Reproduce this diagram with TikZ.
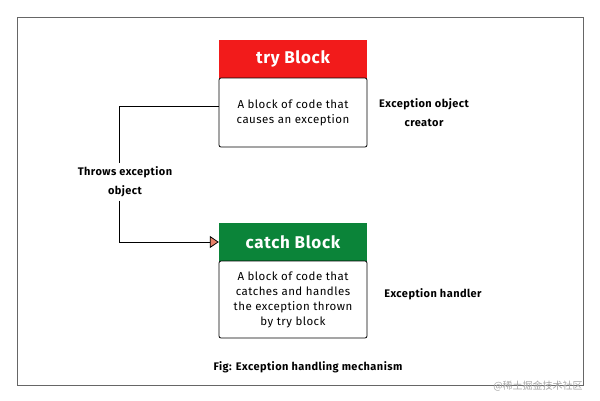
\documentclass[tikz,border=0pt]{standalone}
\usepackage{fontspec}
\setmainfont{Fira Sans}[LetterSpace=4]
\newfontfamily\cjk{Noto Sans CJK SC}
\usetikzlibrary{arrows.meta}
\definecolor{tryred}{HTML}{F21B1B}
\definecolor{catchgreen}{HTML}{0B8439}
\definecolor{tipfill}{HTML}{E8836A}
\begin{document}
\begin{tikzpicture}[x=1pt,y=-1pt,
    header/.style ={minimum width=148pt, minimum height=38pt, inner sep=0pt, text=white, font=\fontsize{17}{20}\selectfont\bfseries},
    body/.style ={draw, thick, rounded corners=2pt, minimum width=148pt, inner sep=0pt, align=center, font=\fontsize{11.5}{15}\selectfont},
    note/.style ={align=center, font=\fontsize{11}{19}\selectfont\bfseries}]
   \useasboundingbox (0,0) rectangle (600,400);
   \draw[thick, black!60] (17,17) rectangle (583,385);

   \node[header, fill=tryred] (tryhead) at (293,59) {try Block};
   \node[body, minimum height=69pt] (trybody) at (293,112.5) {A block of code that\\causes an exception};
   \node[header, fill=catchgreen] (catchhead) at (293,242) {catch Block};
   \node[body, minimum height=77pt] (catchbody) at (293,299.5) {A block of code that\\catches and handles\\the exception thrown\\by try block};

   \node[note] (creator) at (424,113) {Exception object\\creator};
   \node[note] (handler) at (433,294) {Exception handler};
   \node[note, fill=white] (throws) at (125,182) {Throws exception\\object};
   \node[note] (caption) at (308,367) {Fig: Exception handling mechanism};
   \node[text=black!35, font=\cjk\fontsize{10}{12}\selectfont] (mark) at (538,386) {@稀土掘金技术社区};

   \coordinate (bend) at (119,106);
   \draw[thick] (trybody.west |- bend) -- (bend) -- (throws.north -| bend);
   \draw[thick, -{Triangle[length=9pt, width=12pt, fill=tipfill]}] (throws.south -| bend) |- (catchhead.west);
\end{tikzpicture}
\end{document}
